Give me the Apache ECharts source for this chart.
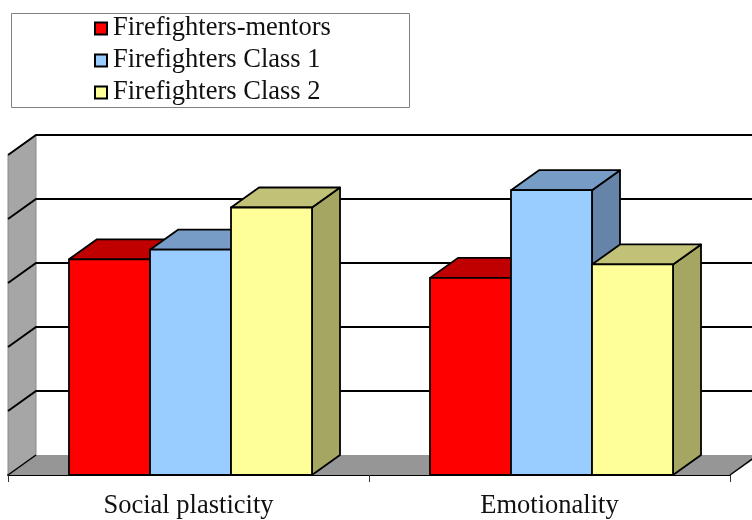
<!DOCTYPE html>
<html><head><meta charset="utf-8">
<script src="https://cdn.jsdelivr.net/npm/echarts@6/dist/echarts.min.js"></script>
<style>html,body{margin:0;padding:0;background:#fff}#c{width:752px;height:520px}</style>
</head><body><div id="c"></div>
<script>
// ---- data ----
const categories = ['Social plasticity', 'Emotionality'];
const seriesNames = ['Firefighters-mentors', 'Firefighters Class 1', 'Firefighters Class 2'];
const mentors = [3.37, 3.08];
const class1 = [3.52, 4.45];
const class2 = [4.18, 3.29];
const yMin = 0, yMax = 5, yInterval = 1;

// ---- style ----
const DX = 28, DY = -20;
const BAR_RATIO = 0.2244, SHIFT = 2, EDGE = 1.8;
const palettes = [
  {front: '#FF0000', top: '#C00000', side: '#A00000'},
  {front: '#99CCFF', top: '#779DC6', side: '#6683A8'},
  {front: '#FFFF99', top: '#C1C177', side: '#A6A663'}
];
const FONT = '"Liberation Serif", "Times New Roman", serif';

function makeBar(k) {
  const pal = palettes[k];
  return function (params, api) {
    const c = api.value(0), v = api.value(1);
    const t = api.coord([c, v]), b = api.coord([c, 0]);
    const band = api.size([1, 0])[0];
    const bw = band * BAR_RATIO;
    const cx = t[0] + (k - 1) * bw + SHIFT;
    const x0 = cx - bw / 2, x1 = cx + bw / 2, yT = t[1], yB = b[1];
    const st = {stroke: '#000', lineWidth: EDGE, lineJoin: 'round'};
    return {type: 'group', children: [
      {type: 'polygon', shape: {points: [[x1, yT], [x1 + DX, yT + DY], [x1 + DX, yB + DY], [x1, yB]]}, style: Object.assign({}, st, {fill: pal.side})},
      {type: 'polygon', shape: {points: [[x0, yT], [x1, yT], [x1 + DX, yT + DY], [x0 + DX, yT + DY]]}, style: Object.assign({}, st, {fill: pal.top})},
      {type: 'rect', shape: {x: x0, y: yT, width: bw, height: yB - yT}, style: Object.assign({}, st, {fill: pal.front})}
    ]};
  };
}

function renderBack(params, api) {
  const cs = params.coordSys;
  const x0 = cs.x, x1 = cs.x + cs.width;
  const yF = api.coord([0, yMin])[1];
  const yTop = api.coord([0, yMax])[1];
  const farX = x1 + DX + 60;
  const ch = [];
  ch.push({type: 'polygon', shape: {points: [[x0, yTop], [x0 + DX, yTop + DY], [x0 + DX, yF + DY], [x0, yF]]}, style: {fill: '#A6A6A6', stroke: '#8a8a8a', lineWidth: 1}});
  ch.push({type: 'polygon', shape: {points: [[x0, yF], [x1, yF], [x1 + DX, yF + DY], [x0 + DX, yF + DY]]}, style: {fill: '#969696'}});
  ch.push({type: 'line', shape: {x1: x0, y1: yF, x2: x0 + DX, y2: yF + DY}, style: {stroke: '#000', lineWidth: 1.5}});
  ch.push({type: 'line', shape: {x1: x1, y1: yF, x2: x1 + DX, y2: yF + DY}, style: {stroke: '#000', lineWidth: 1.5}});
  for (let v = yMin + yInterval; v <= yMax + 1e-9; v += yInterval) {
    const y = api.coord([0, v])[1];
    ch.push({type: 'polyline', shape: {points: [[x0, y], [x0 + DX, y + DY], [farX, y + DY]]}, style: {stroke: '#000', lineWidth: 2, fill: null}});
  }
  return {type: 'group', children: ch};
}

const chart = echarts.init(document.getElementById('c'), null, {renderer: 'canvas'});
const seriesData = [mentors, class1, class2];
chart.setOption({
  animation: false,
  backgroundColor: '#fff',
  grid: {left: 8, right: 22, top: 155, bottom: 45, containLabel: false, outerBoundsMode: 'none'},
  xAxis: {
    type: 'category', data: categories, boundaryGap: true,
    axisLine: {lineStyle: {color: '#000', width: 2}},
    axisTick: {show: true, length: 7, lineStyle: {color: '#333', width: 1}},
    axisLabel: {fontFamily: FONT, fontSize: 26.5, color: '#111', margin: 18}
  },
  yAxis: {type: 'value', min: yMin, max: yMax, interval: yInterval, show: false, splitLine: {show: false}},
  legend: {
    data: seriesNames, orient: 'vertical', left: 89, top: 10,
    icon: 'rect', itemWidth: 12, itemHeight: 12, itemGap: 5,
    itemStyle: {borderColor: '#000', borderWidth: 2},
    textStyle: {fontFamily: FONT, fontSize: 26.5, color: '#111', lineHeight: 26, padding: [0, 0, 0, 1]}
  },
  graphic: [{type: 'rect', left: 9, top: 11, shape: {width: 398, height: 94}, style: {fill: 'none', stroke: '#808080', lineWidth: 1}}],
  series: [
    {type: 'custom', name: '__back', renderItem: renderBack, data: [[0, 0]], encode: {x: 0, y: 1}, z: 1, silent: true, clip: false}
  ].concat(seriesData.map((arr, k) => ({
    type: 'custom', name: seriesNames[k], renderItem: makeBar(k),
    itemStyle: {color: palettes[k].front},
    data: arr.map((v, i) => [i, v]), encode: {x: 0, y: 1}, z: 2 + k, clip: false
  })))
});
</script></body></html>
